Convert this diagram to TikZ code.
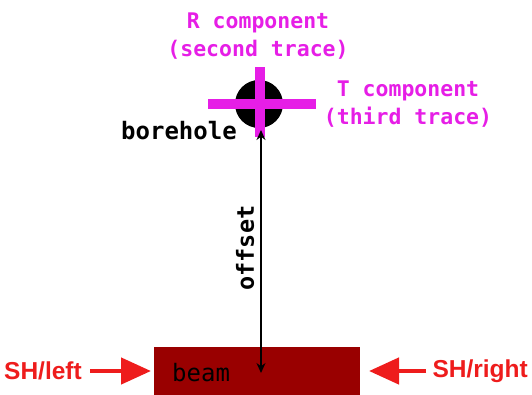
\documentclass[tikz,border=0pt]{standalone}
\usepackage{fontspec}
\setmonofont{DejaVu Sans Mono}
\setsansfont{Liberation Sans}
\usetikzlibrary{arrows.meta}
\definecolor{mag}{HTML}{E61EE6}
\definecolor{shred}{HTML}{EE1C1C}
\definecolor{beamred}{HTML}{990000}
\begin{document}
\begin{tikzpicture}[x=1pt,y=-1pt,
  magtext/.style={text=mag,font=\ttfamily\bfseries\fontsize{21.5}{28}\selectfont,align=center,inner sep=0pt},
  blktext/.style={text=black,font=\ttfamily\bfseries\fontsize{24}{28}\selectfont,inner sep=0pt},
  shtext/.style={text=shred,font=\sffamily\bfseries\fontsize{24.5}{28}\selectfont,inner sep=0pt},
  sharrow/.style={draw=shred,line width=4.5pt,-{Triangle[length=30pt,width=26pt]}},
  crossbar/.style={draw=mag,line width=9.5pt},
  offarrow/.style={draw=black,line width=1.4pt,{Stealth[length=10pt,width=9pt]}-{Stealth[length=10pt,width=9pt]}}]
\useasboundingbox (0,0) rectangle (532,394);
% borehole
\node[circle,fill=black,minimum size=48pt,inner sep=0pt] (bh) at (259,104) {};
\coordinate (vt) at (260,67);
\coordinate (vb) at (260,137);
\coordinate (hl) at (208,104);
\coordinate (hr) at (316,104);
\draw[crossbar] (vt) -- (vb);
\draw[crossbar] (hl) -- (hr);
\node[magtext] (rc) at (258,36) {R component\\(second trace)};
\node[magtext] (tc) at (408,104) {T component\\(third trace)};
\node[blktext] (bl) at (179,131) {borehole};
% beam
\node[fill=beamred,minimum width=206pt,minimum height=50pt,inner sep=0pt,anchor=north west] (beam) at (154,347) {};
\node[blktext,anchor=west,font=\ttfamily\fontsize{24}{28}\selectfont] (bt) at (172,373) {beam};
% offset arrow
\coordinate (top) at (261,130);
\coordinate (bot) at (261,373);
\draw[offarrow] (bot) -- (top);
\node[text=black,font=\ttfamily\bfseries\fontsize{23.5}{28}\selectfont,rotate=90,inner sep=0pt] (off) at (245,248) {offset};
% SH arrows
\node[shtext,anchor=west] (shl) at (4,371) {SH/left};
\node[shtext,anchor=east] (shr) at (528,371) {SH/right};
\coordinate (la) at (90,371);
\coordinate (lt) at (151,371);
\coordinate (ra) at (426,371);
\coordinate (rt) at (369,371);
\draw[sharrow] (la) -- (lt);
\draw[sharrow] (ra) -- (rt);
\end{tikzpicture}
\end{document}
